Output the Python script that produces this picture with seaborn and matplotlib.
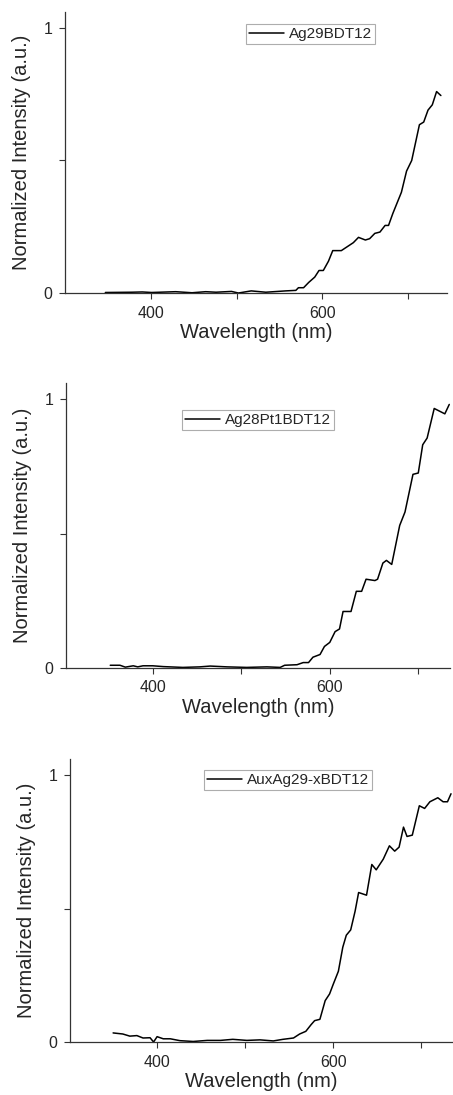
import numpy as np
import pandas as pd
import seaborn as sns
import matplotlib.pyplot as plt

# -----------------------------
# Data
# -----------------------------
wl_ag29 = [347, 378, 390, 401, 429, 448, 464, 476, 494, 502, 517, 534, 557, 569,
           572, 578, 584, 591, 596, 601, 607, 612, 622,
           629, 636, 642, 650, 655, 661, 667, 673, 677, 682, 692, 698, 704, 713,
           718, 723, 728, 733, 738]
int_ag29 = [0.002, 0.003, 0.004, 0.002, 0.005, 0.001, 0.005, 0.003, 0.006, 0.0,
            0.008, 0.003, 0.008, 0.01, 0.02, 0.02, 0.04, 0.06, 0.085, 0.085,
            0.12, 0.16, 0.16, 0.175, 0.19, 0.21, 0.20, 0.205, 0.225, 0.23, 0.255,
            0.255, 0.30, 0.38, 0.46, 0.50, 0.635, 0.645, 0.69, 0.71, 0.76, 0.745]

wl_pt = [352, 363, 369, 378, 383, 389, 400, 412, 434, 453, 465, 484, 506, 529,
         544, 549, 563, 570, 576, 581, 589, 594,
         600, 606, 611, 615, 624, 630, 636, 641, 651, 654, 660, 664, 670, 679,
         685, 694, 700, 705, 710, 718, 724, 730, 735]
int_pt = [0.01, 0.01, 0.003, 0.008, 0.004, 0.008, 0.008, 0.005, 0.002, 0.004,
          0.007, 0.004, 0.002, 0.004, 0.002, 0.01, 0.012, 0.02, 0.02,
          0.04, 0.05, 0.08, 0.095, 0.135, 0.145, 0.21, 0.21, 0.285, 0.285, 0.33,
          0.325, 0.33, 0.39, 0.40, 0.385, 0.53, 0.58, 0.72, 0.725, 0.83, 0.855,
          0.965, 0.955, 0.945, 0.98]

wl_au = [350, 361, 369, 377, 384, 392, 396, 400, 407, 415, 426, 441, 457, 472,
         486, 502, 517, 532, 543, 555, 562, 569, 575, 579, 585, 591, 596, 600,
         606, 611, 615, 620, 625, 629, 638, 644, 649, 657, 664, 670, 675, 680,
         684, 690, 698, 704, 710, 719, 725, 730, 734]
int_au = [0.034, 0.03, 0.022, 0.024, 0.015, 0.016, 0.0, 0.02, 0.012, 0.012,
          0.005, 0.002, 0.006, 0.006, 0.01, 0.006, 0.008, 0.004, 0.01, 0.015,
          0.03, 0.04, 0.065, 0.08, 0.085, 0.155, 0.18, 0.215, 0.265, 0.355,
          0.40, 0.42, 0.49, 0.56, 0.55, 0.665, 0.645, 0.685, 0.735, 0.715, 0.73,
          0.805, 0.77, 0.775, 0.885, 0.875, 0.9, 0.915, 0.9, 0.9, 0.93]

labels = ['Ag29BDT12', 'Ag28Pt1BDT12', 'AuxAg29-xBDT12']

# -----------------------------
# Style
# -----------------------------
sns.set_style('ticks')
plt.rcParams['font.family'] = ['Liberation Sans', 'DejaVu Sans']

fig = plt.figure(figsize=(4.53, 10.95), dpi=100)

# axes rectangles in figure fraction, plus legend anchor in axes fraction
panels = [
    (wl_ag29, int_ag29, labels[0], [0.1435, 0.7324, 0.843, 0.2566], (300, 745), (0.474, 0.957)),
    (wl_pt, int_pt, labels[1], [0.1457, 0.3900, 0.848, 0.2603], (302, 736), (0.302, 0.905)),
    (wl_au, int_au, labels[2], [0.1545, 0.0484, 0.845, 0.2584], (301, 736), (0.350, 0.961)),
]

for wl, inten, name, rect, xlim, leg_pos in panels:
    ax = fig.add_axes(rect)
    df = pd.DataFrame({'Wavelength': wl, 'Intensity': inten, 'Sample': name})
    sns.lineplot(data=df, x='Wavelength', y='Intensity', hue='Sample',
                 palette=['black'], linewidth=1.1, ax=ax)

    ax.set_xlim(*xlim)
    ax.set_ylim(0, 1.06)
    ax.set_xticks([400, 600])
    ax.set_xticks([500, 700], minor=True)
    ax.set_yticks([0, 1])
    ax.set_yticklabels(['0', '1'])
    ax.set_yticks([0.5], minor=True)
    ax.tick_params(which='both', direction='out', length=4, width=0.8,
                   color='#333333', labelsize=11.5, pad=5)

    sns.despine(ax=ax)
    for side in ['left', 'bottom']:
        ax.spines[side].set_color('#333333')
        ax.spines[side].set_linewidth(0.9)

    ax.set_xlabel('Wavelength (nm)', fontsize=14.5, labelpad=2)
    ax.set_ylabel('Normalized Intensity (a.u.)', fontsize=14.5, labelpad=9)

    leg = ax.legend(loc='upper left', bbox_to_anchor=leg_pos, borderaxespad=0,
                    fontsize=11, frameon=True, fancybox=False, handlelength=2.3,
                    handletextpad=0.3, borderpad=0.2, title=None)
    leg.get_frame().set_edgecolor('#999999')
    leg.get_frame().set_linewidth(0.8)

plt.savefig('out.png', dpi=100)
